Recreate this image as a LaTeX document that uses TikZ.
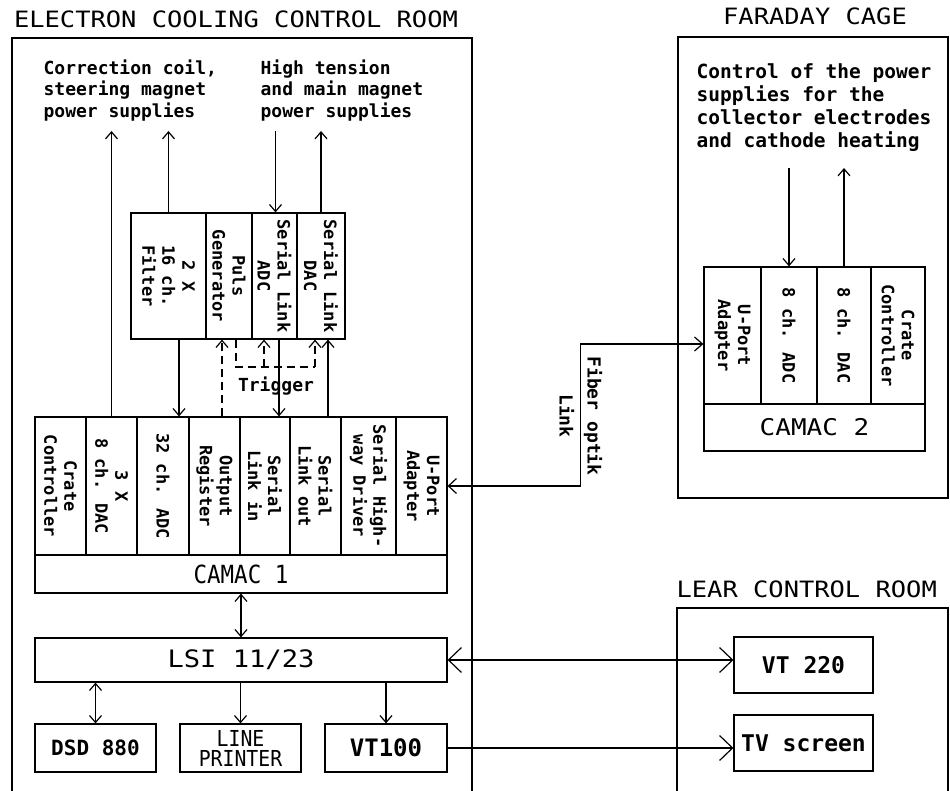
\documentclass[tikz,border=0pt]{standalone}
\usepackage{fontspec}
\usepackage{tikz}
\usetikzlibrary{arrows.meta}
\newfontfamily\plotfont[FakeStretch=1.13]{DejaVu Sans Mono}
\newfontfamily\narrowfont[FakeStretch=0.9]{DejaVu Sans Mono}
\newfontfamily\lblfont{DejaVu Sans Mono}

\begin{document}
\begin{tikzpicture}[x=1pt, y=-1pt, line width=1.2pt,
        box/.style   ={draw, inner sep=0pt},
        modtxt/.style={rotate=-90, align=center, inner sep=0pt,
                       font=\lblfont\bfseries\fontsize{17}{20}\selectfont},
        lbl/.style   ={align=left, inner sep=0pt,
                       font=\lblfont\bfseries\fontsize{18}{21.5}\selectfont},
        ttl/.style   ={inner sep=0pt, font=\plotfont\fontsize{22.5}{26}\selectfont},
        arr/.style   ={-{Straight Barb[length=7pt,width=12pt]}},
        barr/.style  ={{Straight Barb[length=7pt,width=12pt]}-{Straight Barb[length=7pt,width=12pt]}},
        trig/.style  ={dash pattern=on 8pt off 5pt}]
    \useasboundingbox (0,0) rectangle (950,791);

    %--- Rooms ---
    \draw (12,791) -- (12,38) -- (472,38) -- (472,791);
    \draw (678,37) rectangle (948,498);
    \draw (677,791) -- (677,608) -- (948,608) -- (948,791);

    \node[ttl] (ecrT) at (236,19) {ELECTRON COOLING CONTROL ROOM};
    \node[ttl] (fcT) at (815,16) {FARADAY CAGE};
    \node[ttl, anchor=west] (lcT) at (676,589) {LEAR CONTROL ROOM};

    %--- Power supply texts ---
    \node[lbl, anchor=north west] (corrT) at (43,59)
        {Correction coil,\\steering magnet\\power supplies};
    \node[lbl, anchor=north west] (htT) at (260,59)
        {High tension\\and main magnet\\power supplies};
    \node[lbl, anchor=north west, font=\lblfont\bfseries\fontsize{19.5}{23}\selectfont]
        (ctlT) at (696,63)
        {Control of the power\\supplies for the\\collector electrodes\\and cathode heating};
    \coordinate (supA) at (0,131);
    \coordinate (supF) at (0,168);

    %--- Filter / pulse crate ---
    \node[box, minimum width=75pt, minimum height=126pt] (filt) at (168.5,276) {};
    \node[box, minimum width=46pt, minimum height=126pt] (puls) at (229,276) {};
    \node[box, minimum width=45pt, minimum height=126pt] (sadc) at (274.5,276) {};
    \node[box, minimum width=48pt, minimum height=126pt] (sdac) at (321,276) {};
    \node[modtxt] at (filt) {2 X\\16 ch.\\Filter};
    \node[modtxt] at (puls) {Puls\\Generator};
    \node[modtxt] at (sadc) {Serial Link\\ADC};
    \node[modtxt] at (sdac) {Serial Link\\DAC};

    %--- CAMAC 1 ---
    \node[box, minimum width=51pt, minimum height=138pt] (cc1) at (60.5,486) {};
    \node[box, minimum width=51pt, minimum height=138pt] (dac1) at (111.5,486) {};
    \node[box, minimum width=52pt, minimum height=138pt] (adc1) at (163,486) {};
    \node[box, minimum width=51pt, minimum height=138pt] (outreg) at (214.5,486) {};
    \node[box, minimum width=50pt, minimum height=138pt] (slin) at (265,486) {};
    \node[box, minimum width=51pt, minimum height=138pt] (slout) at (315.5,486) {};
    \node[box, minimum width=55pt, minimum height=138pt] (shwd) at (368.5,486) {};
    \node[box, minimum width=51pt, minimum height=138pt] (up1) at (421.5,486) {};
    \node[modtxt] at (cc1) {Crate\\Controller};
    \node[modtxt] at (dac1) {3 X\\8 ch. DAC};
    \node[modtxt] at (adc1) {32 ch. ADC};
    \node[modtxt] at (outreg) {Output\\Register};
    \node[modtxt] at (slin) {Serial\\Link in};
    \node[modtxt] at (slout) {Serial\\Link out};
    \node[modtxt] at (shwd) {Serial High-\\way Driver};
    \node[modtxt] at (up1) {U-Port\\Adapter};
    \node[box, minimum width=412pt, minimum height=38pt,
          font=\narrowfont\fontsize{25}{28}\selectfont] (cam1) at (241,574) {CAMAC 1};

    %--- CAMAC 2 ---
    \node[box, minimum width=57pt, minimum height=137pt] (up2) at (732.5,335.5) {};
    \node[box, minimum width=56pt, minimum height=137pt] (adc2) at (789,335.5) {};
    \node[box, minimum width=54pt, minimum height=137pt] (dac2) at (844,335.5) {};
    \node[box, minimum width=54pt, minimum height=137pt] (cc2) at (898,335.5) {};
    \node[modtxt] at (up2) {U-Port\\Adapter};
    \node[modtxt] at (adc2) {8 ch. ADC};
    \node[modtxt] at (dac2) {8 ch. DAC};
    \node[modtxt] at (cc2) {Crate\\Controller};
    \node[box, minimum width=221pt, minimum height=47pt,
          font=\plotfont\fontsize{23}{26}\selectfont] (cam2) at (814.5,427.5) {CAMAC 2};

    %--- Computer and terminals ---
    \node[box, minimum width=412pt, minimum height=44pt,
          font=\plotfont\fontsize{24}{27}\selectfont] (lsi) at (241,660) {LSI 11/23};
    \node[box, minimum width=121pt, minimum height=48pt,
          font=\lblfont\bfseries\fontsize{21}{24}\selectfont] (dsd) at (95.5,748) {DSD 880};
    \node[box, minimum width=121pt, minimum height=48pt, align=center,
          font=\narrowfont\fontsize{22}{20}\selectfont] (lp) at (240.5,748) {LINE\\PRINTER};
    \node[box, minimum width=122pt, minimum height=48pt,
          font=\lblfont\bfseries\fontsize{24}{27}\selectfont] (vt100) at (386,748) {VT100};
    \node[box, minimum width=139pt, minimum height=56pt,
          font=\lblfont\bfseries\fontsize{23}{26}\selectfont] (vt220) at (803.5,665) {VT 220};
    \node[box, minimum width=139pt, minimum height=56pt,
          font=\lblfont\bfseries\fontsize{23}{26}\selectfont] (tv) at (803.5,743) {TV screen};

    %--- Power supply arrows ---
    \draw[arr] (dac1.north) -- (dac1.north |- supA);
    \draw[arr] (filt.north) -- (filt.north |- supA);
    \draw[arr] ([xshift=1pt]sadc.north |- supA) -- ([xshift=1pt]sadc.north);
    \draw[arr] (sdac.north) -- (sdac.north |- supA);
    \draw[arr] (adc2.north |- supF) -- (adc2.north);
    \draw[arr] (dac2.north) -- (dac2.north |- supF);

    %--- Crate to CAMAC 1 ---
    \draw[arr] ([xshift=10.5pt]filt.south) -- ([xshift=10.5pt]filt.south |- adc1.north);
    \draw[arr, trig] ([xshift=-7pt]puls.south |- outreg.north) -- ([xshift=-7pt]puls.south);
    \draw[arr] ([xshift=4.5pt]sadc.south) -- ([xshift=4.5pt]sadc.south |- slin.north);
    \draw[arr] ([xshift=7pt]sdac.south |- slout.north) -- ([xshift=7pt]sdac.south);

    %--- Trigger ---
    \coordinate (trg) at (0,367);
    \draw[trig] ([xshift=7pt]puls.south) |- ([xshift=-6pt]sdac.south |- trg);
    \draw[arr, trig] ([xshift=-10.5pt]sadc.south |- trg) -- ([xshift=-10.5pt]sadc.south);
    \draw[arr, trig] ([xshift=-6pt]sdac.south |- trg) -- ([xshift=-6pt]sdac.south);
    \node[lbl] (trgT) at (276,386) {Trigger};

    %--- Fiber optic link ---
    \draw[{Straight Barb[length=8pt,width=15pt]}-{Straight Barb[length=8pt,width=14pt]}]
        (up1.east) -- ++(133,0) |- ([yshift=-8.5pt]up2.west);
    \node[lbl, rotate=-90, align=center, font=\lblfont\bfseries\fontsize{18}{28}\selectfont]
        (fibT) at (581,416) {Fiber optik\\Link};

    %--- Computer links ---
    \draw[barr] (cam1.south) -- (lsi.north);
    \draw[barr] (dsd.north |- lsi.south) -- (dsd.north);
    \draw[arr] (lp.north |- lsi.south) -- (lp.north);
    \draw[arr] (vt100.north |- lsi.south) -- (vt100.north);
    \draw[{Straight Barb[length=13pt,width=25pt]}-{Straight Barb[length=13pt,width=25pt]}]
        (lsi.east) -- (vt220.west |- lsi.east);
    \draw[-{Straight Barb[length=13pt,width=25pt]}] (vt100.east) -- (tv.west |- vt100.east);

    \end{tikzpicture}
\end{document}
